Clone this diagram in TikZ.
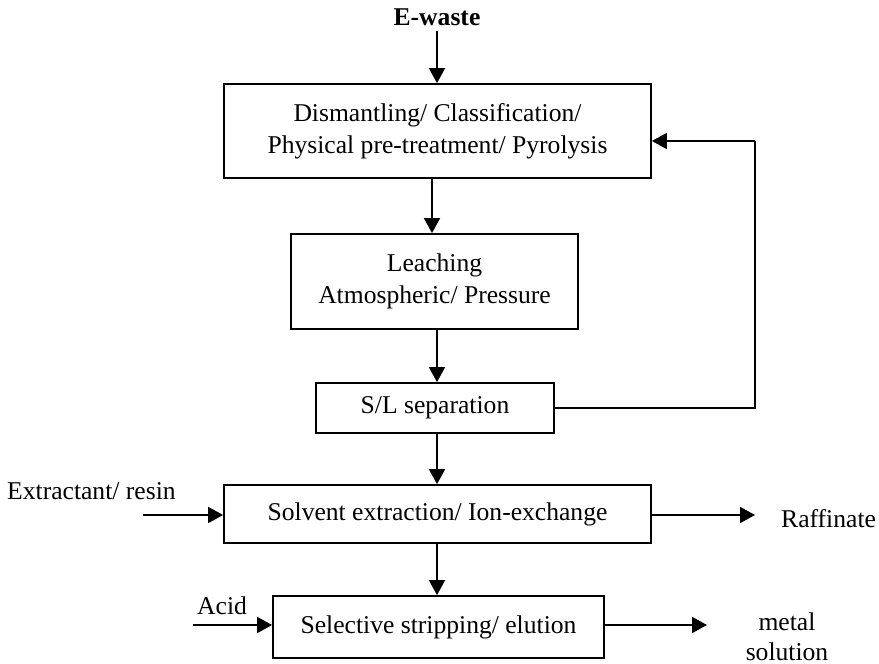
\documentclass[tikz,border=0pt]{standalone}
\usepackage{fontspec}
\setmainfont{Liberation Serif}
\usetikzlibrary{arrows.meta}

\tikzset{
  box/.style={draw, line width=1.8pt, inner sep=0pt, align=center},
  lbl/.style={inner sep=0pt},
  arr/.style={line width=1.8pt, -{Triangle[length=15pt,width=16pt]}},
  link/.style={line width=1.8pt},
}

\begin{document}
\begin{tikzpicture}[x=1pt,y=-1pt,
  every node/.append style={font=\fontsize{25.6}{32}\selectfont}]
  \fill[white] (0,0) rectangle (879,664);
  \useasboundingbox (0,0) rectangle (879,664);

  % process boxes
  \node[box, minimum width=427pt, minimum height=94pt] (b1) at (437.5,131)
    {Dismantling/ Classification/\\Physical pre-treatment/ Pyrolysis};
  \node[box, minimum width=287pt, minimum height=95pt] (b2) at (434.5,281.5)
    {Leaching\\Atmospheric/ Pressure};
  \node[box, minimum width=238pt, minimum height=50pt] (b3) at (435,408)
    {S/L separation};
  \node[box, minimum width=427pt, minimum height=58pt] (b4) at (437.5,514)
    {Solvent extraction/ Ion-exchange};
  \node[box, minimum width=331pt, minimum height=62pt] (b5) at (438.5,627)
    {Selective stripping/ elution};

  % inputs and outputs
  \node[lbl, anchor=base, font=\fontsize{25.6}{32}\selectfont\bfseries] (ew) at (437,25) {E-waste};
  \node[lbl, anchor=base west] (ext) at (7,499) {Extractant/ resin};
  \node[lbl, anchor=base west] (raf) at (781,527) {Raffinate};
  \node[lbl, anchor=base west] (acid) at (197,614) {Acid};
  \node[lbl, anchor=base] (met) at (787,630) {metal};
  \node[lbl, anchor=base] (sol) at (787,660) {solution};

  % helper points for the connectors
  \coordinate (xa) at (437,0);
  \coordinate (xb) at (432,0);
  \coordinate (fb) at (755,0);
  \coordinate (fy) at (0,141);
  \coordinate (extin) at (143,515);
  \coordinate (rafout) at (755,515);
  \coordinate (acidin) at (193,625);
  \coordinate (metout) at (707,625);

  % main flow
  \draw[arr] (ew.south |- 0,31) -- (b1.north -| ew.south);
  \draw[arr] (b1.south -| xb) -- (b2.north -| xb);
  \draw[arr] (b2.south -| xa) -- (b3.north -| xa);
  \draw[arr] (b3.south -| xa) -- (b4.north -| xa);
  \draw[arr] (b4.south -| xa) -- (b5.north -| xa);

  % recycle loop back to pre-treatment
  \draw[link] (b3.east) -- (b3.east -| fb) -- (fb |- fy);
  \draw[arr] (fb |- fy) -- (b1.east |- fy);

  % side streams
  \draw[arr] (extin) -- (b4.west |- extin);
  \draw[arr] (b4.east |- rafout) -- (rafout);
  \draw[arr] (acidin) -- (b5.west |- acidin);
  \draw[arr] (b5.east |- metout) -- (metout);
\end{tikzpicture}
\end{document}
